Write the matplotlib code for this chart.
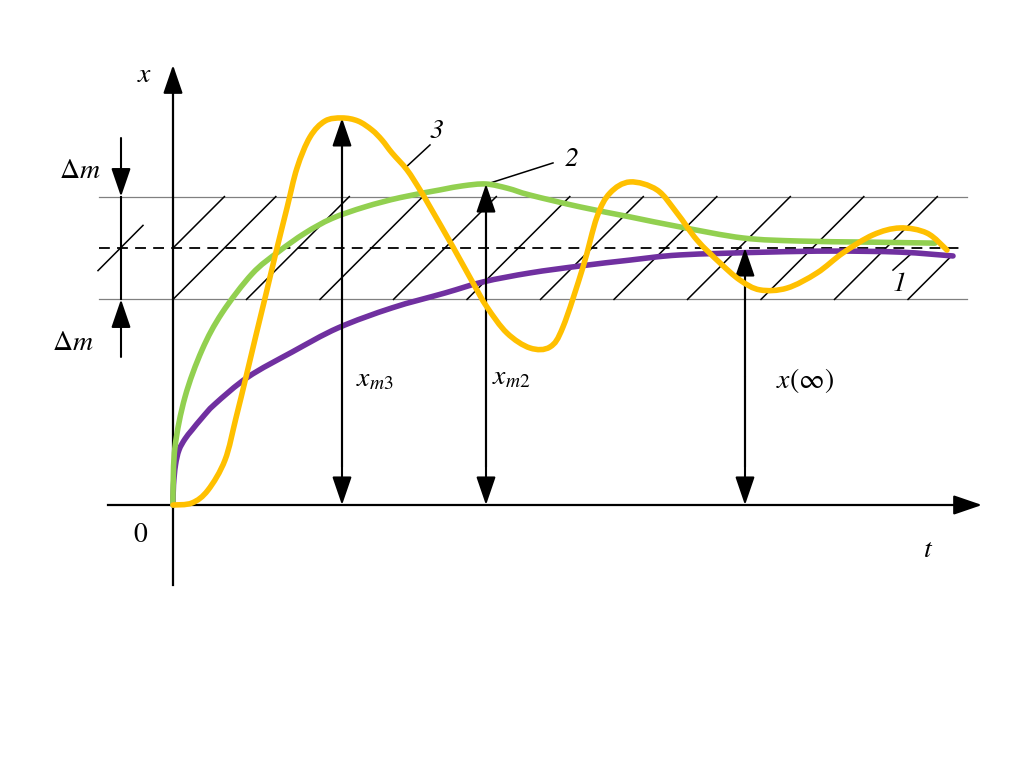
import numpy as np
import matplotlib
matplotlib.use("Agg")
import matplotlib.pyplot as plt
from matplotlib.path import Path
from matplotlib.patches import PathPatch

plt.rcParams['mathtext.fontset'] = 'stix'
plt.rcParams['font.family'] = ['STIXGeneral', 'DejaVu Serif']

# --- transient responses (t, x / x(inf)) ---
t1 = [0.00, 0.005, 0.025, 0.06, 0.12, 0.19, 0.29, 0.42, 0.75, 1.19, 1.65,
      2.19, 2.72, 3.10, 3.57, 4.07, 4.57, 5.07, 5.94, 6.60, 7.27, 7.80]
x1 = [0.000, 0.078, 0.156, 0.214, 0.257, 0.292, 0.339, 0.393, 0.498, 0.595,
      0.689, 0.767, 0.825, 0.868, 0.903, 0.930, 0.953, 0.973, 0.984, 0.988,
      0.984, 0.969]

t2 = [0.00, 0.00, 0.02, 0.12, 0.29, 0.49, 0.79, 1.05, 1.32, 1.59, 1.92, 2.27,
      2.67, 2.90, 3.13, 3.35, 3.57, 4.07, 4.57, 5.07, 5.70, 6.27, 6.94, 7.62]
x2 = [0.000, 0.047, 0.226, 0.420, 0.603, 0.747, 0.899, 0.984, 1.058, 1.115,
      1.160, 1.196, 1.226, 1.242, 1.249, 1.232, 1.206, 1.160, 1.121, 1.082,
      1.039, 1.027, 1.023, 1.019]

t3 = [0.00, 0.19, 0.35, 0.52, 0.63, 0.73, 0.83, 0.93, 1.03, 1.14, 1.24, 1.37,
      1.52, 1.69, 1.85, 1.99, 2.09, 2.19, 2.34, 2.47, 2.57, 2.80, 3.00, 3.14,
      3.34, 3.57, 3.77, 3.90, 4.10, 4.24, 4.37, 4.57, 4.84, 5.04, 5.24, 5.47,
      5.67, 5.87, 6.14, 6.44, 6.70, 7.00, 7.27, 7.54, 7.74]
x3 = [0.000, 0.008, 0.058, 0.175, 0.339, 0.498, 0.661, 0.821, 0.984, 1.156,
      1.311, 1.432, 1.494, 1.506, 1.494, 1.459, 1.420, 1.370, 1.304, 1.226,
      1.160, 1.004, 0.864, 0.770, 0.669, 0.611, 0.615, 0.693, 0.926, 1.121,
      1.214, 1.257, 1.226, 1.136, 1.031, 0.942, 0.875, 0.837, 0.844, 0.903,
      0.981, 1.051, 1.078, 1.058, 0.992]

x_inf = 1.0
dm = 0.2
t_inf = 5.72

PURPLE = '#7030A0'
GREEN = '#92D050'
GOLD = '#FFC000'

# pixel scale: 100 px per t unit, 257 px per x unit
ST, SX = 100.0, 257.0

fig = plt.figure(figsize=(10.24, 7.67), dpi=100)
ax = fig.add_axes([0, 0, 1, 1])
ax.set_xlim(-173 / ST, (1024 - 173) / ST)
ax.set_ylim(-(767 - 505) / SX, 505 / SX)
ax.axis('off')


def arrow(p_from, p_to, lw=1.5):
    ax.annotate('', xy=p_to, xytext=p_from,
                arrowprops=dict(arrowstyle='-|>,head_length=1.75,head_width=0.6',
                                mutation_scale=10, lw=lw, color='k',
                                shrinkA=0, shrinkB=0))


def smooth_curve(t, x, color, z):
    # smoothed line through the read points (Catmull-Rom as cubic Beziers)
    p = np.column_stack([np.asarray(t) * ST, np.asarray(x) * SX])
    verts = [p[0]]
    codes = [Path.MOVETO]
    n = len(p)
    for i in range(n - 1):
        p0 = p[max(i - 1, 0)]
        p1, p2 = p[i], p[i + 1]
        p3 = p[min(i + 2, n - 1)]
        c1 = p1 + (p2 - p0) / 6.0
        c2 = p2 - (p3 - p1) / 6.0
        verts += [c1, c2, p2]
        codes += [Path.CURVE4] * 3
    verts = np.array(verts) / [ST, SX]
    ax.add_patch(PathPatch(Path(verts, codes), fill=False, edgecolor=color,
                           lw=4.0, capstyle='round', joinstyle='round', zorder=z))


# tolerance band
for lev in (x_inf - dm, x_inf + dm):
    ax.plot([-0.74, 7.94], [lev, lev], color='#808080', lw=0.9, zorder=1)
ax.plot([-0.74, 7.87], [x_inf, x_inf], color='k', lw=1.3,
        dashes=(6, 4), zorder=1)

# hatch lines at 45 degrees (in pixels)
band_h = 2 * dm
t_right = 7.77
for t0 in np.arange(0, 7.4, 0.735):
    t_end = min(t0 + band_h * SX / ST, t_right)
    ax.plot([t0, t_end], [x_inf - dm, x_inf - dm + (t_end - t0) * ST / SX],
            color='k', lw=1.1, zorder=1)
ax.plot([0, dm * SX / ST], [x_inf, x_inf + dm], color='k', lw=1.1, zorder=1)

# delta m dimension marks
tm = -0.52
ax.plot([tm, tm], [x_inf - dm, x_inf + dm], color='k', lw=1.5)
arrow((tm, 1.428), (tm, x_inf + dm))
arrow((tm, 0.576), (tm, x_inf - dm))
ax.plot([-0.75, -0.30], [x_inf - 0.088, x_inf + 0.088], color='k', lw=1.1)

# axes
ax.plot([0, 0], [-0.311, 1.62], color='k', lw=1.6)
arrow((0, 1.6), (0, 1.712), lw=1.6)
ax.plot([-0.65, 7.95], [0, 0], color='k', lw=1.6)
arrow((7.9, 0), (8.09, 0), lw=1.6)

# curves
smooth_curve(t1, x1, PURPLE, 3)
smooth_curve(t2, x2, GREEN, 3)
smooth_curve(t3, x3, GOLD, 4)

# overshoot / steady-state dimension arrows
i3 = int(np.argmax(x3))
i2 = int(np.argmax(x2))
for tt, xx in ((t3[i3], x3[i3]), (t2[i2], x2[i2]), (t_inf, x_inf)):
    arrow((tt, xx / 2), (tt, xx))
    arrow((tt, xx / 2), (tt, 0))
    ax.plot([tt, tt], [0.15, xx - 0.1], color='k', lw=1.5)

# leaders
ax.plot([2.32, 2.57], [1.311, 1.401], color='k', lw=1.1)
ax.plot([3.14, 3.80], [1.249, 1.331], color='k', lw=1.1)
ax.plot([7.20, 7.40], [0.914, 0.984], color='k', lw=1.1)

fs = 20
ax.text(-0.28, 1.673, r'$x$', fontsize=fs, ha='center', va='center')
ax.text(7.55, -0.175, r'$t$', fontsize=fs, ha='center', va='center')
ax.text(-0.33, -0.117, '0', fontsize=fs, ha='center', va='center')
ax.text(-0.93, 1.296, r'$\Delta m$', fontsize=fs, ha='center', va='center')
ax.text(-1.00, 0.630, r'$\Delta m$', fontsize=fs, ha='center', va='center')
ax.text(2.02, 0.486, r'$x_{m3}$', fontsize=fs, ha='center', va='center')
ax.text(3.38, 0.494, r'$x_{m2}$', fontsize=fs, ha='center', va='center')
ax.text(6.32, 0.486, r'$x(\infty)$', fontsize=fs, ha='center', va='center')
ax.text(2.63, 1.451, '3', fontsize=fs, style='italic', ha='center', va='center')
ax.text(3.99, 1.342, '2', fontsize=fs, style='italic', ha='center', va='center')
ax.text(7.27, 0.856, '1', fontsize=fs, style='italic', ha='center', va='center')

fig.savefig('out.png', dpi=100)
